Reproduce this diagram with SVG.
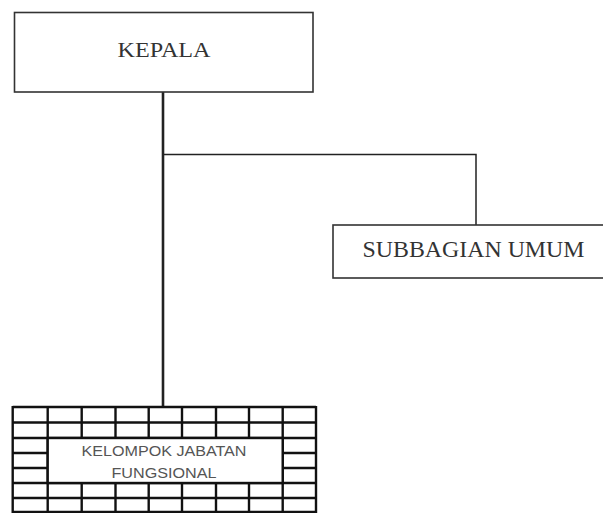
<svg xmlns="http://www.w3.org/2000/svg" width="603" height="513" viewBox="0 0 603 513">
<style>
.box{fill:#fff;stroke:#333;stroke-width:1.6}
.serif{font-family:"Liberation Serif","Times New Roman",serif;fill:#333}
.sans{font-family:"Liberation Sans",Arial,sans-serif;fill:#555;font-size:14px}
.grid line{stroke:#111;stroke-width:2.4}
.conn{fill:none;stroke:#222}
</style>
<rect width="603" height="513" fill="#fff"/>
<g id="connectors">
<line class="conn" x1="163" y1="92" x2="163" y2="407" stroke-width="2.6"/>
<polyline class="conn" points="163,154.5 476,154.5 476,225" stroke-width="1.5"/>
</g>
<g id="kepala">
<rect class="box" x="14.5" y="12.5" width="298.5" height="79.5"/>
<text class="serif" x="164" y="57" font-size="22" text-anchor="middle" textLength="93" lengthAdjust="spacingAndGlyphs">KEPALA</text>
</g>
<g id="subbagian-umum">
<rect class="box" x="333" y="225" width="275" height="53"/>
<text class="serif" x="473.5" y="256.5" font-size="24" text-anchor="middle" textLength="222" lengthAdjust="spacingAndGlyphs">SUBBAGIAN UMUM</text>
</g>
<g id="kelompok-jabatan-fungsional">
<g class="grid">
<line x1="12.7" y1="407" x2="316" y2="407"/>
<line x1="12.7" y1="422.5" x2="316" y2="422.5"/>
<line x1="12.7" y1="438" x2="316" y2="438"/>
<line x1="12.7" y1="453" x2="316" y2="453"/>
<line x1="12.7" y1="468" x2="316" y2="468"/>
<line x1="12.7" y1="483" x2="316" y2="483"/>
<line x1="12.7" y1="498" x2="316" y2="498"/>
<line x1="12.7" y1="512" x2="316" y2="512"/>
<line x1="12.7" y1="406" x2="12.7" y2="513" stroke-width="3"/>
<line x1="47.7" y1="407" x2="47.7" y2="513"/>
<line x1="81.7" y1="407" x2="81.7" y2="513"/>
<line x1="115.5" y1="407" x2="115.5" y2="513"/>
<line x1="148.7" y1="407" x2="148.7" y2="513"/>
<line x1="182" y1="407" x2="182" y2="513"/>
<line x1="216" y1="407" x2="216" y2="513"/>
<line x1="249" y1="407" x2="249" y2="513"/>
<line x1="282.7" y1="407" x2="282.7" y2="513"/>
<line x1="316" y1="406" x2="316" y2="513" stroke-width="3"/>
</g>
<rect x="47.7" y="438" width="235" height="45" fill="#fff" stroke="#111" stroke-width="2.4"/>
<text class="sans" x="164" y="456" text-anchor="middle" textLength="165" lengthAdjust="spacingAndGlyphs">KELOMPOK JABATAN</text>
<text class="sans" x="164" y="477.5" text-anchor="middle" textLength="105" lengthAdjust="spacingAndGlyphs">FUNGSIONAL</text>
</g>
</svg>
